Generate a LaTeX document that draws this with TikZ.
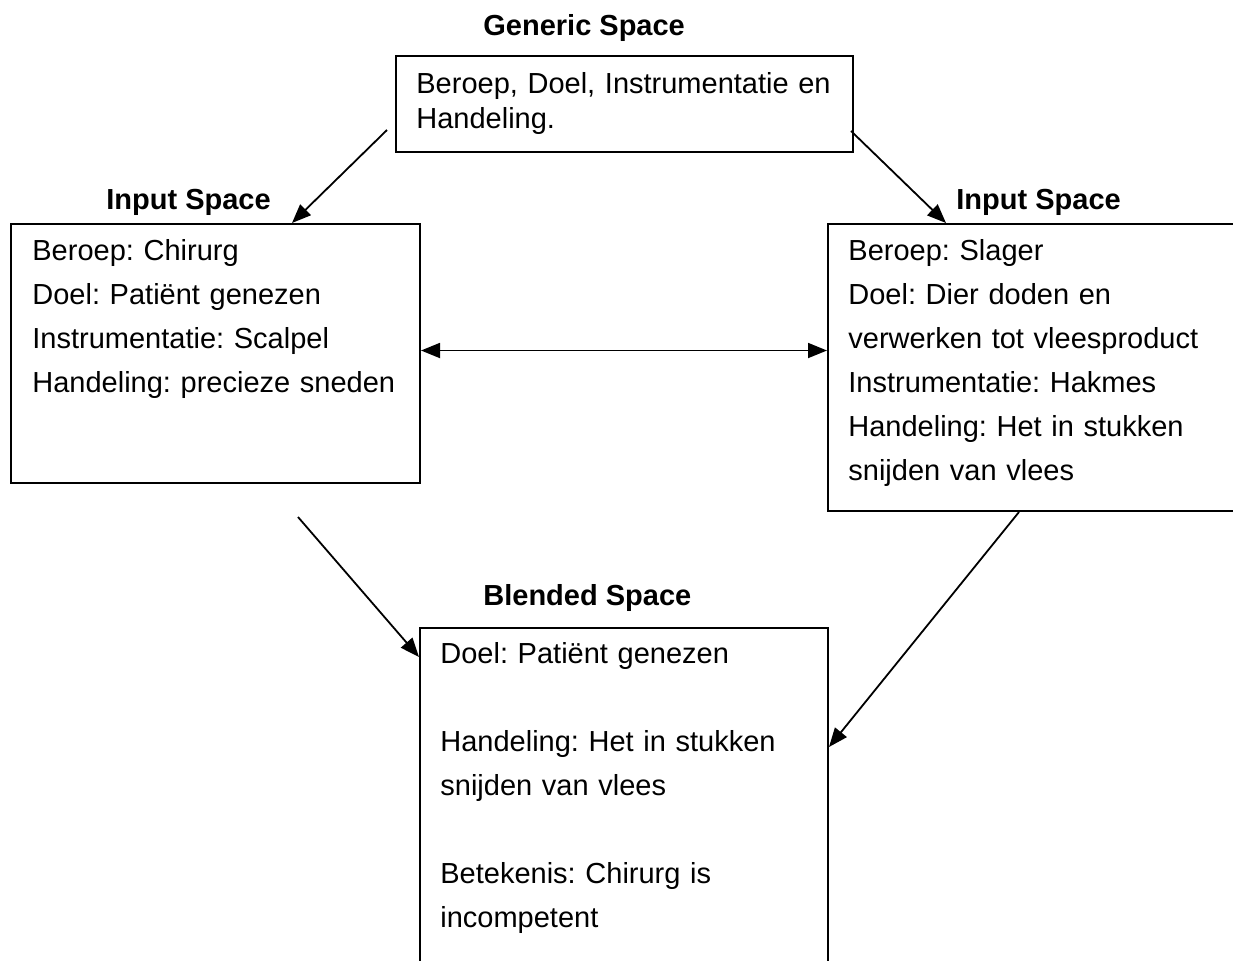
\documentclass[tikz,border=0pt]{standalone}
\usepackage{fontspec}
\setmainfont{Liberation Sans}
\usetikzlibrary{arrows.meta,calc}
\begin{document}
\frenchspacing
\begin{tikzpicture}[x=0.5pt,y=-0.5pt,
  spacebox/.style={draw,line width=1pt,rectangle,inner sep=0pt,anchor=north west},
  title/.style={font=\fontsize{14.5}{17}\selectfont\bfseries,anchor=base west,inner sep=0pt},
  body/.style={font=\fontsize{14.5}{22}\selectfont\frenchspacing,anchor=base west,inner sep=0pt,text width=220pt,align=left},
  tip/.tip={Triangle[length=9.5pt,width=7.5pt]},
  link/.style={line width=0.9pt,-tip},
  biglink/.style={line width=0.9pt,tip-tip},
]
\clip (0,0) rectangle (1233,960);
\fill[white] (0,0) rectangle (1233,960);

% the four spaces
\node[spacebox,minimum width=228.5pt,minimum height=48pt] (generic) at (395,55) {};
\node[spacebox,minimum width=204.5pt,minimum height=129.5pt] (inL) at (10,223) {};
\node[spacebox,minimum width=230pt,minimum height=143.5pt] (inR) at (827,223) {};
\node[spacebox,minimum width=204pt,minimum height=200pt] (blend) at (419,627) {};

% headings
\node[title] (tG) at (483,35) {Generic Space};
\node[title] (tL) at (106,209) {Input Space};
\node[title] (tR) at (956,209) {Input Space};
\node[title] (tB) at (483,605) {Blended Space};

% contents
\node[body,font=\fontsize{14.5}{17.5}\selectfont\frenchspacing] (gText) at (416,93)
  {Beroep, Doel, Instrumentatie en\\Handeling.};
\node[body] (lText) at (32,260)
  {Beroep: Chirurg\\Doel: Patiënt genezen\\Instrumentatie: Scalpel\\Handeling: precieze sneden};
\node[body] (rText) at (848,260)
  {Beroep: Slager\\Doel: Dier doden en\\verwerken tot vleesproduct\\Instrumentatie: Hakmes\\Handeling: Het in stukken\\snijden van vlees};
\node[body] (bText) at (440,663)
  {Doel: Patiënt genezen\\[22pt]Handeling: Het in stukken\\snijden van vlees\\[22pt]Betekenis: Chirurg is\\incompetent};

% mappings
\coordinate (g1) at (387,130);
\coordinate (g2) at (851,131);
\coordinate (l1) at (298,517);
\coordinate (r1) at (1019,512);
\draw[link] (g1) -- ($(inL.north west)+(282,0)$);
\draw[link] (g2) -- ($(inR.north west)+(119,0)$);
\draw[biglink] ($(inL.east)+(0,-3)$) -- ($(inL.east -| inR.west)+(0,-3)$);
\draw[link] (l1) -- ($(blend.north west)+(0,30)$);
\draw[link] (r1) -- ($(blend.north east)+(0,120)$);
\end{tikzpicture}
\end{document}
